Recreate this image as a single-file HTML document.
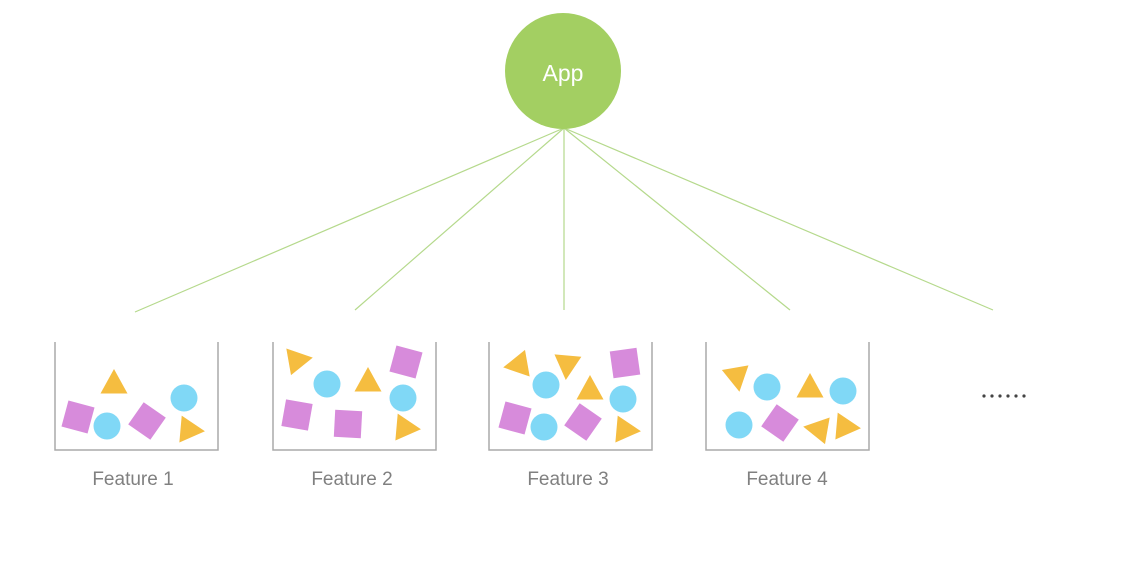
<!DOCTYPE html>
<html><head><meta charset="utf-8"><style>
html,body{margin:0;padding:0;background:#fff;}
svg{display:block;}
text{font-family:"Liberation Sans","DejaVu Sans",sans-serif;}
</style></head><body>
<svg width="1147" height="568" viewBox="0 0 1147 568" xmlns="http://www.w3.org/2000/svg">
<defs>
<polygon id="t" points="0,-14 13.5,10.5 -13.5,10.5" fill="#f5bd40"/>
<rect id="s" x="-13.5" y="-13.5" width="27" height="27" fill="#d78bdb"/>
<circle id="c" r="13.5" fill="#80d8f6"/>
</defs>
<g stroke="#b5d98c" stroke-width="1.2">
<line x1="564" y1="128" x2="135" y2="312"/>
<line x1="564" y1="128" x2="355" y2="310"/>
<line x1="564" y1="128" x2="564" y2="310"/>
<line x1="564" y1="128" x2="790" y2="310"/>
<line x1="564" y1="128" x2="993" y2="310"/>
</g>
<circle cx="563" cy="71" r="58" fill="#a3cf62"/>
<text x="563" y="81" font-size="23" fill="#fff" text-anchor="middle">App</text>
<g fill="none" stroke="#aaa" stroke-width="1.5">
<polyline points="55,342 55,450 218,450 218,342"/>
<polyline points="273,342 273,450 436,450 436,342"/>
<polyline points="489,342 489,450 652,450 652,342"/>
<polyline points="706,342 706,450 869,450 869,342"/>
</g>
<!-- box1 -->
<use href="#t" transform="translate(114,383)"/>
<use href="#c" x="184" y="398"/>
<use href="#s" transform="translate(78,417) rotate(15)"/>
<use href="#c" x="107" y="426"/>
<use href="#s" transform="translate(147,421) rotate(35)"/>
<use href="#t" transform="translate(191,430) rotate(95)"/>
<!-- box2 -->
<use href="#t" transform="translate(299,360) rotate(80)"/>
<use href="#c" x="327" y="384"/>
<use href="#t" transform="translate(368,381)"/>
<use href="#s" transform="translate(406,362) rotate(15)"/>
<use href="#c" x="403" y="398"/>
<use href="#s" transform="translate(297,415) rotate(10)"/>
<use href="#s" transform="translate(348,424) rotate(3)"/>
<use href="#t" transform="translate(407,428) rotate(95)"/>
<!-- box3 -->
<use href="#t" transform="translate(517,365) rotate(-100)"/>
<use href="#t" transform="translate(567,366) rotate(185)"/>
<use href="#s" transform="translate(625,363) rotate(-8)"/>
<use href="#c" x="546" y="385"/>
<use href="#t" transform="translate(590,389)"/>
<use href="#c" x="623" y="399"/>
<use href="#s" transform="translate(515,418) rotate(15)"/>
<use href="#c" x="544" y="427"/>
<use href="#s" transform="translate(583,422) rotate(35)"/>
<use href="#t" transform="translate(627,430) rotate(95)"/>
<!-- box4 -->
<use href="#t" transform="translate(737,378) rotate(170)"/>
<use href="#c" x="767" y="387"/>
<use href="#t" transform="translate(810,387)"/>
<use href="#c" x="843" y="391"/>
<use href="#c" x="739" y="425"/>
<use href="#s" transform="translate(780,423) rotate(35)"/>
<use href="#t" transform="translate(817,429) rotate(-80)"/>
<use href="#t" transform="translate(847,427) rotate(95)"/>
<g fill="#808080" font-size="19" text-anchor="middle">
<text x="133" y="485">Feature 1</text>
<text x="352" y="485">Feature 2</text>
<text x="568" y="485">Feature 3</text>
<text x="787" y="485">Feature 4</text>
</g>
<g fill="#444">
<circle cx="984" cy="396" r="1.6"/><circle cx="992" cy="396" r="1.6"/><circle cx="1000" cy="396" r="1.6"/>
<circle cx="1008" cy="396" r="1.6"/><circle cx="1016" cy="396" r="1.6"/><circle cx="1024" cy="396" r="1.6"/>
</g>
</svg>
</body></html>
